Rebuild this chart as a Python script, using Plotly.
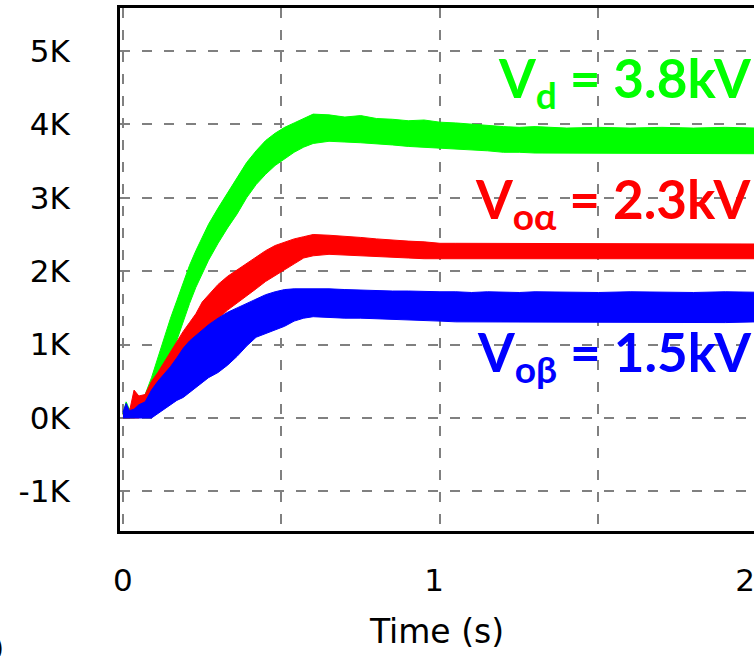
import plotly.graph_objects as go

# ---- data (values in kV) ----
time_s = [0, 0.01, 0.02, 0.035, 0.05, 0.07, 0.09, 0.11, 0.13, 0.15, 0.17, 0.19, 0.21, 0.23,
          0.25, 0.27, 0.30, 0.33, 0.36, 0.39, 0.42, 0.45, 0.48, 0.51, 0.54, 0.57, 0.60, 0.65,
          0.70, 0.75, 0.80, 0.85, 0.90, 0.95, 1.00, 1.05, 1.10, 1.15, 1.20, 1.25, 1.30, 1.40,
          1.50, 1.60, 1.70, 1.80, 1.90, 2.00, 2.05]

vd_upper = [0.05, 0.22, 0.12, 0.18, 0.22, 0.32, 0.55, 0.82, 1.1, 1.36, 1.6, 1.85, 2.08, 2.28,
            2.47, 2.64, 2.86, 3.07, 3.28, 3.48, 3.64, 3.78, 3.88, 3.96, 4.02, 4.08, 4.14, 4.13,
            4.1, 4.12, 4.08, 4.07, 4.05, 4.06, 4.03, 4.02, 4.0, 3.99, 3.97, 3.96, 3.97, 3.95,
            3.96, 3.95, 3.96, 3.95, 3.96, 3.95, 3.95]
vd_lower = [0, 0, 0, 0, 0.02, 0.03, 0.06, 0.28, 0.55, 0.8, 1.06, 1.31, 1.56, 1.78,
            1.97, 2.15, 2.38, 2.59, 2.78, 3.0, 3.18, 3.32, 3.44, 3.53, 3.62, 3.69, 3.74, 3.77,
            3.76, 3.75, 3.74, 3.72, 3.7, 3.68, 3.67, 3.66, 3.65, 3.64, 3.62, 3.62, 3.61, 3.61,
            3.6, 3.61, 3.6, 3.61, 3.6, 3.6, 3.6]

voa_upper = [0.05, 0.1, 0.08, 0.38, 0.3, 0.32, 0.5, 0.62, 0.76, 0.9, 1.04, 1.18, 1.3, 1.42,
             1.58, 1.68, 1.82, 1.93, 2.02, 2.1, 2.2, 2.28, 2.35, 2.4, 2.44, 2.47, 2.5, 2.49,
             2.48, 2.46, 2.44, 2.42, 2.41, 2.4, 2.38, 2.38, 2.38, 2.37, 2.38, 2.37, 2.38, 2.37,
             2.38, 2.37, 2.37, 2.38, 2.37, 2.37, 2.37]
voa_lower = [0, 0, 0, 0, 0, 0.05, 0.18, 0.28, 0.38, 0.5, 0.62, 0.76, 0.88, 0.98,
             1.12, 1.22, 1.35, 1.47, 1.57, 1.66, 1.76, 1.86, 1.95, 2.02, 2.1, 2.18, 2.21, 2.23,
             2.22, 2.21, 2.2, 2.19, 2.18, 2.17, 2.17, 2.16, 2.16, 2.17, 2.16, 2.17, 2.16, 2.17,
             2.16, 2.17, 2.16, 2.17, 2.16, 2.17, 2.17]

vob_upper = [0.08, 0.2, 0.1, 0.12, 0.18, 0.22, 0.38, 0.5, 0.6, 0.7, 0.82, 0.95, 1.05, 1.12,
             1.2, 1.27, 1.36, 1.44, 1.5, 1.56, 1.62, 1.68, 1.72, 1.75, 1.76, 1.76, 1.77, 1.76,
             1.75, 1.74, 1.74, 1.73, 1.73, 1.72, 1.72, 1.72, 1.71, 1.72, 1.71, 1.71, 1.72, 1.71,
             1.71, 1.72, 1.71, 1.71, 1.72, 1.71, 1.71]
vob_lower = [0, 0, 0, 0, 0, 0, 0, 0.05, 0.12, 0.18, 0.24, 0.28, 0.34, 0.42,
             0.48, 0.55, 0.62, 0.72, 0.84, 0.98, 1.1, 1.16, 1.2, 1.25, 1.32, 1.36, 1.38, 1.37,
             1.36, 1.36, 1.35, 1.34, 1.33, 1.33, 1.32, 1.31, 1.31, 1.30, 1.31, 1.30, 1.30, 1.31,
             1.30, 1.30, 1.31, 1.30, 1.30, 1.31, 1.30]

series_names = ["Vd", "Voα", "Voβ"]
series_colors = ["#00FF00", "#FF0000", "#0000FF"]
label_texts = ["<b>V<sub>d</sub> = 3.8kV</b>",
               "<b>V<sub>oα</sub> = 2.3kV</b>",
               "<b>V<sub>oβ</sub> = 1.5kV</b>"]

y_tick_vals = [-1, 0, 1, 2, 3, 4, 5]
y_tick_text = ["-1K", "0K", "1K", "2K", "3K", "4K", "5K"]
x_tick_vals = [0, 1, 2]
x_tick_text = ["0", "1", "2"]

# ---- figure ----
W, H = 754, 656
ML, MT, MB = 120, 8, 125
plot_w = W - ML
plot_h = H - MT - MB

fig = go.Figure()
bands = [(vd_upper, vd_lower), (voa_upper, voa_lower), (vob_upper, vob_lower)]
for name, col, (up, lo) in zip(series_names, series_colors, bands):
    fig.add_trace(go.Scatter(
        x=time_s + time_s[::-1],
        y=up + lo[::-1],
        mode="lines", fill="toself", fillcolor=col,
        line=dict(color=col, width=1),
        name=name, hoverinfo="skip", showlegend=False, xaxis="x", yaxis="y"))

# invisible trace to anchor the label axis
fig.add_trace(go.Scatter(x=[0], y=[0], mode="markers", marker=dict(opacity=0),
                         showlegend=False, hoverinfo="skip", xaxis="x2", yaxis="y"))

grid_px = 320.0   # pixels per second for grid
lab_px = 314.0    # pixels per second for labels
x0_px = 117.0
tick_font = dict(family="DejaVu Sans", size=31, color="#000000")

fig.update_layout(
    width=W, height=H,
    margin=dict(l=ML, r=0, t=MT, b=MB, pad=0),
    paper_bgcolor="white", plot_bgcolor="white",
    xaxis=dict(
        range=[-(ML - x0_px) / grid_px, (W - x0_px) / grid_px],
        dtick=0.5, tick0=0, showticklabels=False, ticks="",
        showgrid=True, gridcolor="#808080", gridwidth=2, griddash="10px,12px",
        zeroline=False, showline=True, linecolor="black", linewidth=3, mirror=True,
        automargin=False),
    xaxis2=dict(
        overlaying="x", side="bottom", anchor="y",
        range=[-(ML - x0_px) / lab_px, (W - x0_px) / lab_px],
        tickvals=x_tick_vals, ticktext=x_tick_text, ticks="",
        tickfont=tick_font, ticklabelstandoff=28, ticklabeloverflow="allow",
        showgrid=False, zeroline=False, showline=False,
        title=dict(text="Time (s)", font=dict(family="DejaVu Sans", size=33, color="#000000"),
                   standoff=22),
        automargin=False),
    yaxis=dict(
        range=[(418 - (H - MB)) / 73.4, (418 - MT) / 73.4],
        tickvals=y_tick_vals, ticktext=y_tick_text, ticks="",
        tickfont=tick_font, ticklabelstandoff=41,
        showgrid=True, gridcolor="#808080", gridwidth=2, griddash="10px,12px",
        zeroline=False, showline=True, linecolor="black", linewidth=3, mirror=False,
        automargin=False),
)

label_y = [(H - MB - 82) / plot_h, (H - MB - 202) / plot_h, (H - MB - 355) / plot_h]
for txt, col, yy in zip(label_texts, series_colors, label_y):
    fig.add_annotation(text=txt, xref="paper", yref="paper", x=1.0, y=yy,
                       xanchor="right", yanchor="middle", showarrow=False,
                       font=dict(family="Lato", size=53, color=col))

fig.add_annotation(text="(a)", xref="paper", yref="paper",
                   x=(6 - ML) / plot_w, y=(H - MB - 648) / plot_h,
                   xanchor="right", yanchor="middle", showarrow=False,
                   font=dict(family="DejaVu Sans", size=28, color="#000000"))

fig.write_html("out.html")
